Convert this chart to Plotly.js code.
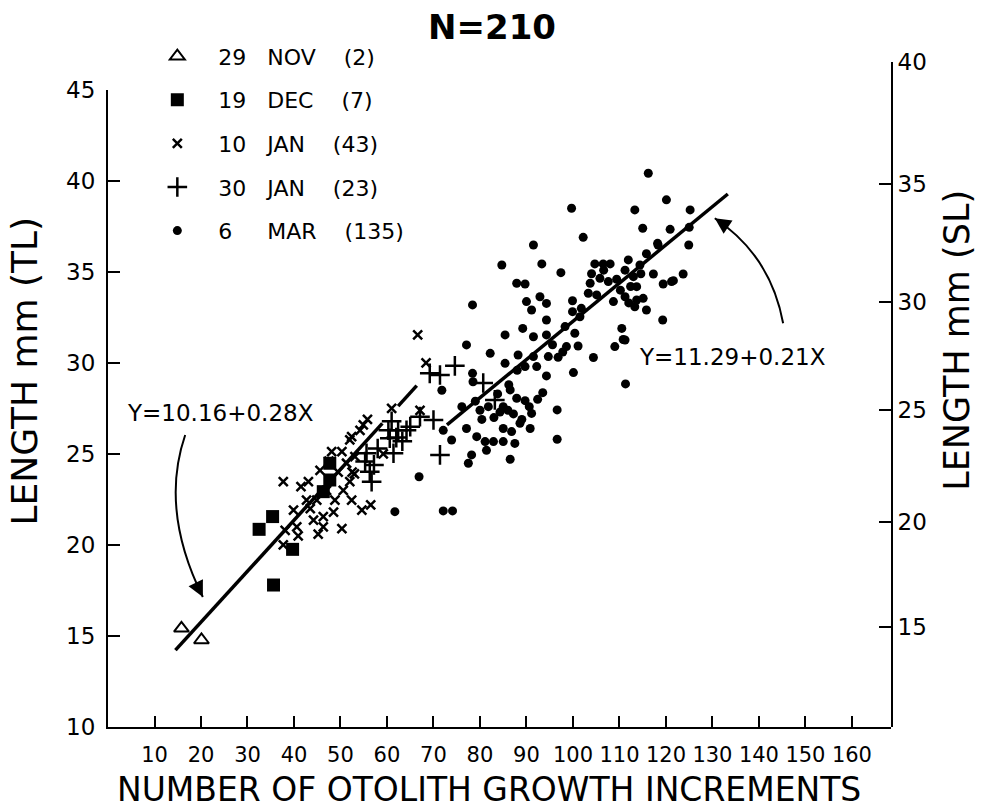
<!DOCTYPE html>
<html>
<head>
<meta charset="utf-8">
<script src="https://cdn.plot.ly/plotly-3.0.1.min.js"></script>
<style>html,body{margin:0;padding:0;background:#fff;}#chart{width:982px;height:810px;}</style>
</head>
<body>
<div id="chart"></div>
<script>
// ---------- DATA ----------
const legendDays   = ['29', '19', '10', '30', '6'];
const legendMonths = ['NOV', 'DEC', 'JAN', 'JAN', 'MAR'];
const legendCounts = [2, 7, 43, 23, 135];

// 29 NOV (triangles)
const novX = [15.8, 20.1];
const novY = [15.42, 14.78];

// 19 DEC (filled squares)
const decX = [35.4, 32.5, 35.6, 39.7, 47.7, 47.7, 46.3];
const decY = [21.56, 20.86, 17.8, 19.76, 24.49, 23.57, 22.93];

// 10 JAN (x)
const jan10X = [37.7, 43.1, 39.9, 40.6, 38.1, 37.7, 40.9, 42.7, 44.2, 46.3, 45.2, 46.3, 50.3, 52.4, 54.6,
                50.6, 48.8, 45.6, 52.0, 52.5, 48.1, 50.3, 52.0, 54.2, 54.9, 53.1, 66.6, 68.4, 61.0, 67.1,
                59.2, 52.4, 44.9, 51.3, 47.0, 49.5, 55.8, 53.0, 48.5, 43.5, 41.5, 47.5, 56.5];
const jan10Y = [23.48, 23.48, 21.92, 21.0, 20.8, 20.0, 20.5, 22.47, 21.37, 21.0, 20.6, 21.56, 20.9, 22.47, 21.92,
                23.0, 22.47, 24.1, 23.48, 24.0, 25.13, 25.13, 25.77, 26.3, 26.6, 24.85, 31.54, 30.0, 27.5, 27.4,
                25.0, 25.95, 22.47, 24.49, 23.0, 24.0, 26.9, 23.9, 21.8, 22.0, 23.2, 24.6, 22.2];

// 30 JAN (+)
const jan30X = [74.6, 69.2, 71.4, 80.7, 83.2, 67.1, 70.0, 60.3, 62.4, 64.2, 60.6, 62.0, 61.4, 71.4,
                55.6, 55.3, 56.3, 56.7, 58.0, 63.3, 65.0, 57.2, 61.0];
const jan30Y = [29.84, 29.43, 29.34, 28.9, 27.97, 27.05, 26.87, 26.3, 26.3, 26.3, 25.86, 25.9, 25.04, 24.95,
                25.04, 24.58, 24.03, 23.48, 25.3, 25.7, 26.5, 24.4, 26.8];

// 6 MAR (dots)
const marX = [78.4, 77.1, 82.2, 78.4, 78.5, 71.8, 76.1, 80.0, 81.8, 84.3, 72.1, 73.9, 77.1, 79.3, 81.1,
              82.9, 81.4, 78.2, 77.5, 66.9, 61.7, 72.1, 74.1, 83.0, 86.0, 85.0,
              116.2, 120.1, 113.3, 125.2, 99.7, 115.0, 120.9, 125.0, 102.2, 91.5, 124.9, 118.3, 115.8, 84.7,
              93.3, 97.4, 104.7, 106.5, 108.0, 111.9, 114.4, 117.3, 123.7, 121.6, 119.4, 87.9, 89.7, 111.2,
              113.0, 113.7, 105.8, 107.6, 103.7, 103.3, 105.1, 108.7, 111.2, 113.7, 113.3, 115.1, 115.8, 119.3,
              90.0, 92.9, 94.3, 91.1, 94.3, 99.9, 99.9, 101.5, 98.3, 100.4, 85.4, 89.2, 91.5, 94.3,
              110.5, 110.8, 109.0, 104.4, 98.6, 101.1, 94.7, 96.8, 88.2, 91.5, 85.4, 89.7, 92.2, 94.3,
              100.1, 111.3, 93.5, 86.5, 87.9, 89.7, 85.0, 91.1, 88.6, 86.8, 85.0, 87.5, 96.6, 96.6,
              86.5, 118.2, 121.2, 111.2,
              110.2, 112.4, 114.6, 109.4, 112.0, 106.6, 104.0, 90.6, 92.4, 89.0, 87.2, 90.8, 86.2, 88.0,
              95.6, 97.8, 83.8, 80.4, 79.0, 101.8];
const marY = [33.19, 30.99, 30.53, 29.43, 28.97, 28.5, 27.6, 27.4, 27.6, 27.3, 26.3, 25.77, 26.4, 25.95, 25.68,
              25.68, 25.2, 24.95, 24.49, 23.75, 21.83, 21.87, 21.87, 27.0, 27.4, 26.4,
              40.42, 38.96, 38.41, 38.41, 38.5, 37.4, 37.34, 37.45, 36.9, 36.48, 36.48, 36.48, 36.0, 35.38,
              35.44, 34.96, 35.44, 35.44, 35.44, 35.66, 35.38, 34.89, 34.89, 34.52, 34.34, 34.38, 34.34, 35.1,
              34.74, 34.19, 34.65, 34.47, 34.38, 33.83, 33.74, 33.37, 33.64, 33.46, 33.09, 33.55, 32.91, 32.36,
              33.37, 33.64, 33.27, 32.91, 32.36, 33.42, 32.82, 32.54, 32.0, 31.63, 31.54, 31.9, 31.44, 31.54,
              31.9, 31.29, 30.9, 30.3, 30.9, 30.93, 30.35, 30.31, 30.44, 30.35, 29.98, 29.8, 29.8, 29.29,
              29.47, 28.85, 28.37, 28.52, 28.06, 27.93, 27.6, 27.23, 26.69, 26.23, 25.68, 25.58, 27.42, 25.81,
              24.71, 36.57, 34.47, 31.26,
              34.0, 34.2, 34.9, 34.6, 33.3, 35.1, 34.9, 27.6, 28.0, 26.9, 27.2, 26.4, 28.8, 29.6,
              31.0, 30.6, 28.3, 26.9, 27.9, 33.0];

// Regression lines: Y = a + bX, drawn over the x spans shown
const fitIntercepts = [10.16, 11.29];
const fitSlopes     = [0.28, 0.21];
const fitSpans      = [[[14.5, 59.0], [62.4, 66.4]], [[72.9, 133.3]]];
const fitLabels     = ['Y=10.16+0.28X', 'Y=11.29+0.21X'];

// Axes
const xTicks   = [10, 20, 30, 40, 50, 60, 70, 80, 90, 100, 110, 120, 130, 140, 150, 160];
const tlTicks  = [10, 15, 20, 25, 30, 35, 40, 45];
const slLabels = ['15', '20', '25', '30', '35', '40'];
const slAtTL   = [15.49, 21.26, 27.42, 33.35, 39.84, 46.54]; // SL tick positions on the TL scale

// ---------- BUILD ----------
const FONT = 'DejaVu Sans, Liberation Sans, sans-serif';
const NB = n => '\u00a0'.repeat(n);
function legendName(i) {
  const gap1 = legendDays[i].length === 1 ? NB(5) : NB(3);
  return NB(3) + legendDays[i] + gap1 + legendMonths[i] + NB(4) + '(' + legendCounts[i] + ')';
}

const markerDefs = [
  {x: novX, y: novY, marker: {symbol: 'triangle-up-open', size: 13, color: '#000', line: {width: 2, color: '#000'}}},
  {x: decX, y: decY, marker: {symbol: 'square', size: 13, color: '#000'}},
  {x: jan10X, y: jan10Y, marker: {symbol: 'x-thin-open', size: 9, color: '#000', line: {width: 2.5, color: '#000'}}},
  {x: jan30X, y: jan30Y, marker: {symbol: 'cross-thin-open', size: 14, color: '#000', line: {width: 2.5, color: '#000'}}},
  {x: marX, y: marY, marker: {symbol: 'circle', size: 9, color: '#000'}}
];

const traces = [];
markerDefs.forEach((d, i) => {
  traces.push({
    type: 'scatter', mode: 'markers', x: d.x, y: d.y, marker: d.marker,
    name: legendName(i), legendgroup: 'g' + i, showlegend: true, hoverinfo: 'x+y'
  });
});

fitSpans.forEach((spans, k) => {
  const xs = [], ys = [];
  spans.forEach((s, j) => {
    if (j > 0) { xs.push(null); ys.push(null); }
    s.forEach(v => { xs.push(v); ys.push(fitIntercepts[k] + fitSlopes[k] * v); });
  });
  traces.push({type: 'scatter', mode: 'lines', x: xs, y: ys, line: {color: '#000', width: 3.5},
               showlegend: false, hoverinfo: 'skip', connectgaps: false});
});

// empty trace so the right-hand (SL) axis subplot is created
traces.push({type: 'scatter', mode: 'markers', x: [], y: [], xaxis: 'x', yaxis: 'y2',
             showlegend: false, hoverinfo: 'skip'});

// Curved pointer arrows (annotation decoration)
function curve(p0, mid, p2) {
  const c = [2 * mid[0] - 0.5 * (p0[0] + p2[0]), 2 * mid[1] - 0.5 * (p0[1] + p2[1])];
  return {path: `M ${p0[0]},${p0[1]} Q ${c[0]},${c[1]} ${p2[0]},${p2[1]}`, c: c};
}
const arrows = [
  {p0: [16.6, 26.04], mid: [14.8, 21.76], p2: [20.4, 17.14]},
  {p0: [145.2, 32.18], mid: [140.2, 35.48], p2: [130.5, 37.95]}
];
const shapes = [], annotations = [];
arrows.forEach(a => {
  const cv = curve(a.p0, a.mid, a.p2);
  shapes.push({type: 'path', xref: 'x', yref: 'y', path: cv.path, line: {color: '#000', width: 2}});
  const tail = [a.p2[0] - 0.15 * (a.p2[0] - cv.c[0]), a.p2[1] - 0.15 * (a.p2[1] - cv.c[1])];
  annotations.push({x: a.p2[0], y: a.p2[1], ax: tail[0], ay: tail[1], xref: 'x', yref: 'y', axref: 'x', ayref: 'y',
                    text: '', showarrow: true, arrowhead: 2, arrowsize: 1.6, arrowwidth: 2, arrowcolor: '#000'});
});

annotations.push({x: 24.1, y: 27.25, xref: 'x', yref: 'y', text: fitLabels[0], showarrow: false,
                  font: {family: FONT, size: 23, color: '#000'}});
annotations.push({x: 134.4, y: 30.33, xref: 'x', yref: 'y', text: fitLabels[1], showarrow: false,
                  font: {family: FONT, size: 23, color: '#000'}});

// Axis titles placed as annotations
annotations.push({x: 0.4866, y: -0.094, xref: 'paper', yref: 'paper', xanchor: 'center', yanchor: 'middle',
                  text: 'NUMBER OF OTOLITH GROWTH INCREMENTS', showarrow: false,
                  font: {family: FONT, size: 33, color: '#000'}});
annotations.push({x: -0.107, y: 0.535, xref: 'paper', yref: 'paper', xanchor: 'center', yanchor: 'middle',
                  text: 'LENGTH mm (TL)', textangle: -90, showarrow: false,
                  font: {family: FONT, size: 36, color: '#000'}});
annotations.push({x: 1.084, y: 0.582, xref: 'paper', yref: 'paper', xanchor: 'center', yanchor: 'middle',
                  text: 'LENGTH mm (SL)', textangle: -90, showarrow: false,
                  font: {family: FONT, size: 35, color: '#000'}});

const layout = {
  width: 982, height: 810,
  margin: {l: 108, r: 91, t: 62, b: 83, autoexpand: false},
  paper_bgcolor: '#fff', plot_bgcolor: 'rgba(0,0,0,0)',
  font: {family: FONT, color: '#000'},
  title: {text: '<b>N=210</b>', x: 492 / 982, xanchor: 'center', y: 1 - 27 / 810, yanchor: 'middle',
          xref: 'container', yref: 'container', font: {family: FONT, size: 34, color: '#000'}},
  showlegend: true,
  legend: {x: 0.063, y: 1.04, xanchor: 'left', yanchor: 'top', bgcolor: 'rgba(0,0,0,0)',
           font: {family: FONT, size: 22, color: '#000'}, tracegroupgap: 12, itemclick: false},
  xaxis: {range: [0, 168.4], tickvals: xTicks, ticktext: xTicks.map(String), ticks: 'inside', ticklen: 11,
          tickwidth: 2, tickcolor: '#000', showline: true, linewidth: 2, linecolor: '#000', showgrid: false,
          zeroline: false, anchor: 'y', ticklabelstandoff: 8, tickfont: {family: FONT, size: 21, color: '#000'}},
  yaxis: {domain: [0, 0.958], range: [10, 45], tickvals: tlTicks, ticktext: tlTicks.map(String), ticks: 'inside',
          ticklen: 12, tickwidth: 2, tickcolor: '#000', showline: true, linewidth: 2, linecolor: '#000',
          showgrid: false, zeroline: false, anchor: 'x', ticklabelstandoff: 6,
          tickfont: {family: FONT, size: 23, color: '#000'}},
  yaxis2: {domain: [0, 1], range: [10, 46.54], tickvals: slAtTL, ticktext: slLabels, side: 'right', anchor: 'x',
           ticks: 'inside', ticklen: 12, tickwidth: 2, tickcolor: '#000', showline: true, linewidth: 2,
           linecolor: '#000', showgrid: false, zeroline: false, tickfont: {family: FONT, size: 23, color: '#000'}},
  shapes: shapes,
  annotations: annotations
};

Plotly.newPlot('chart', traces, layout, {staticPlot: true, displayModeBar: false});
</script>
</body>
</html>
